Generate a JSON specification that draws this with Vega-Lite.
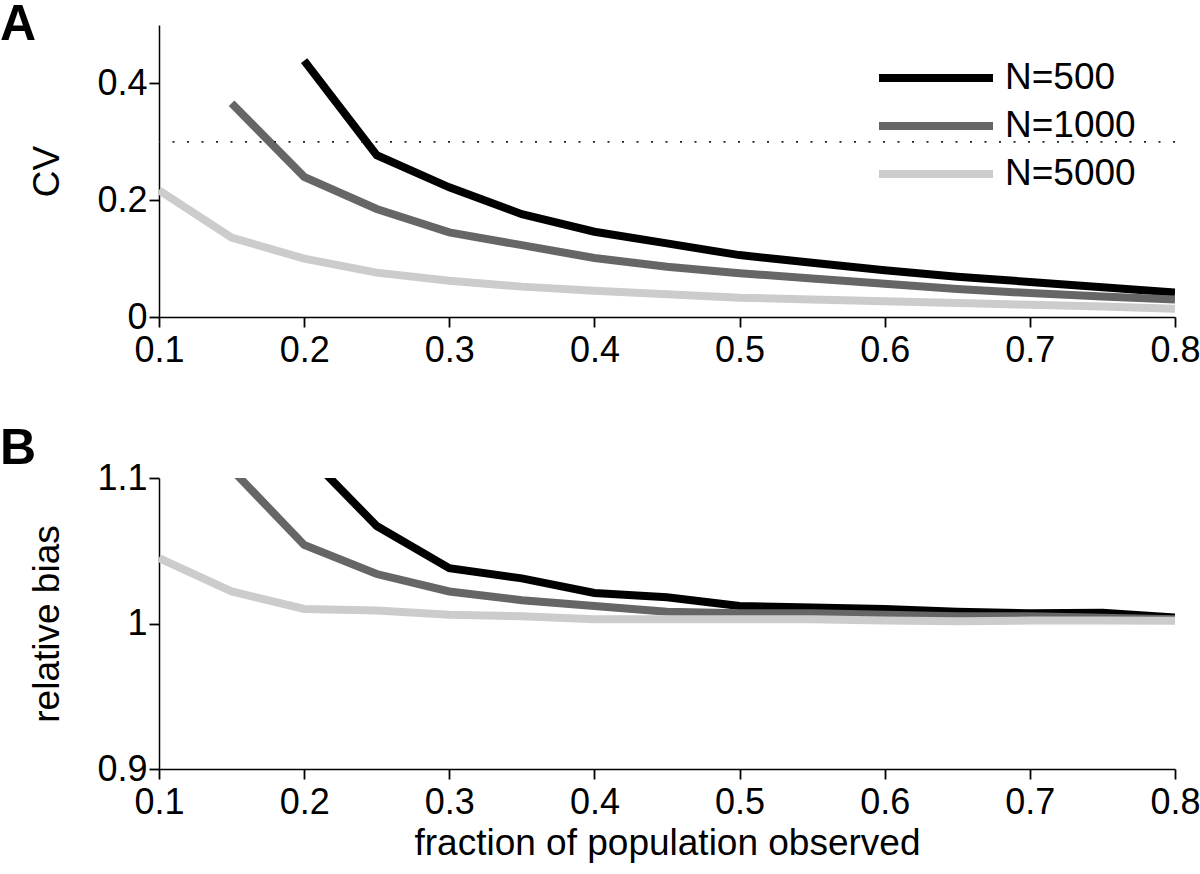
{
  "$schema": "https://vega.github.io/schema/vega-lite/v6.json",
  "background": "white",
  "padding": {"left": 0, "top": 0, "right": 20, "bottom": 5},
  "bounds": "flush",
  "spacing": 161,
  "config": {
    "font": "Liberation Sans",
    "view": {"stroke": null},
    "axis": {
      "grid": false,
      "ticks": true,
      "tickSize": 10,
      "tickColor": "#000000",
      "tickWidth": 1.8,
      "domainColor": "#000000",
      "domainWidth": 1.5,
      "labelFont": "Liberation Sans",
      "labelFontSize": 36,
      "labelColor": "#000000",
      "titleFont": "Liberation Sans",
      "titleFontSize": 37,
      "titleFontWeight": "normal",
      "titleColor": "#000000"
    },
    "axisX": {"labelPadding": 6, "labelFlush": false, "titlePadding": 5},
    "axisY": {"labelPadding": 2, "minExtent": 63, "maxExtent": 63, "titlePadding": 30}
  },
  "datasets": {
    "cv": [
      {"x": 0.2, "y": 0.439, "series": "N=500"},
      {"x": 0.25, "y": 0.277, "series": "N=500"},
      {"x": 0.3, "y": 0.222, "series": "N=500"},
      {"x": 0.35, "y": 0.176, "series": "N=500"},
      {"x": 0.4, "y": 0.146, "series": "N=500"},
      {"x": 0.45, "y": 0.126, "series": "N=500"},
      {"x": 0.5, "y": 0.106, "series": "N=500"},
      {"x": 0.55, "y": 0.093, "series": "N=500"},
      {"x": 0.6, "y": 0.080, "series": "N=500"},
      {"x": 0.65, "y": 0.069, "series": "N=500"},
      {"x": 0.7, "y": 0.060, "series": "N=500"},
      {"x": 0.75, "y": 0.051, "series": "N=500"},
      {"x": 0.8, "y": 0.042, "series": "N=500"},
      {"x": 0.15, "y": 0.366, "series": "N=1000"},
      {"x": 0.2, "y": 0.240, "series": "N=1000"},
      {"x": 0.25, "y": 0.185, "series": "N=1000"},
      {"x": 0.3, "y": 0.145, "series": "N=1000"},
      {"x": 0.35, "y": 0.123, "series": "N=1000"},
      {"x": 0.4, "y": 0.101, "series": "N=1000"},
      {"x": 0.45, "y": 0.086, "series": "N=1000"},
      {"x": 0.5, "y": 0.075, "series": "N=1000"},
      {"x": 0.55, "y": 0.066, "series": "N=1000"},
      {"x": 0.6, "y": 0.057, "series": "N=1000"},
      {"x": 0.65, "y": 0.048, "series": "N=1000"},
      {"x": 0.7, "y": 0.041, "series": "N=1000"},
      {"x": 0.75, "y": 0.035, "series": "N=1000"},
      {"x": 0.8, "y": 0.030, "series": "N=1000"},
      {"x": 0.1, "y": 0.217, "series": "N=5000"},
      {"x": 0.15, "y": 0.136, "series": "N=5000"},
      {"x": 0.2, "y": 0.100, "series": "N=5000"},
      {"x": 0.25, "y": 0.076, "series": "N=5000"},
      {"x": 0.3, "y": 0.062, "series": "N=5000"},
      {"x": 0.35, "y": 0.052, "series": "N=5000"},
      {"x": 0.4, "y": 0.045, "series": "N=5000"},
      {"x": 0.45, "y": 0.039, "series": "N=5000"},
      {"x": 0.5, "y": 0.033, "series": "N=5000"},
      {"x": 0.55, "y": 0.030, "series": "N=5000"},
      {"x": 0.6, "y": 0.027, "series": "N=5000"},
      {"x": 0.65, "y": 0.024, "series": "N=5000"},
      {"x": 0.7, "y": 0.021, "series": "N=5000"},
      {"x": 0.75, "y": 0.018, "series": "N=5000"},
      {"x": 0.8, "y": 0.014, "series": "N=5000"}
    ],
    "bias": [
      {"x": 0.2, "y": 1.118, "series": "N=500"},
      {"x": 0.25, "y": 1.067, "series": "N=500"},
      {"x": 0.3, "y": 1.038, "series": "N=500"},
      {"x": 0.35, "y": 1.031, "series": "N=500"},
      {"x": 0.4, "y": 1.021, "series": "N=500"},
      {"x": 0.45, "y": 1.018, "series": "N=500"},
      {"x": 0.5, "y": 1.012, "series": "N=500"},
      {"x": 0.55, "y": 1.011, "series": "N=500"},
      {"x": 0.6, "y": 1.010, "series": "N=500"},
      {"x": 0.65, "y": 1.008, "series": "N=500"},
      {"x": 0.7, "y": 1.007, "series": "N=500"},
      {"x": 0.75, "y": 1.0074, "series": "N=500"},
      {"x": 0.8, "y": 1.0041, "series": "N=500"},
      {"x": 0.15, "y": 1.106, "series": "N=1000"},
      {"x": 0.2, "y": 1.054, "series": "N=1000"},
      {"x": 0.25, "y": 1.034, "series": "N=1000"},
      {"x": 0.3, "y": 1.022, "series": "N=1000"},
      {"x": 0.35, "y": 1.016, "series": "N=1000"},
      {"x": 0.4, "y": 1.012, "series": "N=1000"},
      {"x": 0.45, "y": 1.008, "series": "N=1000"},
      {"x": 0.5, "y": 1.007, "series": "N=1000"},
      {"x": 0.55, "y": 1.007, "series": "N=1000"},
      {"x": 0.6, "y": 1.006, "series": "N=1000"},
      {"x": 0.65, "y": 1.005, "series": "N=1000"},
      {"x": 0.7, "y": 1.005, "series": "N=1000"},
      {"x": 0.75, "y": 1.004, "series": "N=1000"},
      {"x": 0.8, "y": 1.003, "series": "N=1000"},
      {"x": 0.1, "y": 1.045, "series": "N=5000"},
      {"x": 0.15, "y": 1.022, "series": "N=5000"},
      {"x": 0.2, "y": 1.010, "series": "N=5000"},
      {"x": 0.25, "y": 1.009, "series": "N=5000"},
      {"x": 0.3, "y": 1.006, "series": "N=5000"},
      {"x": 0.35, "y": 1.005, "series": "N=5000"},
      {"x": 0.4, "y": 1.003, "series": "N=5000"},
      {"x": 0.45, "y": 1.003, "series": "N=5000"},
      {"x": 0.5, "y": 1.003, "series": "N=5000"},
      {"x": 0.55, "y": 1.003, "series": "N=5000"},
      {"x": 0.6, "y": 1.002, "series": "N=5000"},
      {"x": 0.65, "y": 1.0015, "series": "N=5000"},
      {"x": 0.7, "y": 1.002, "series": "N=5000"},
      {"x": 0.75, "y": 1.002, "series": "N=5000"},
      {"x": 0.8, "y": 1.0019, "series": "N=5000"}
    ]
  },
  "vconcat": [
    {
      "width": 1016,
      "height": 292,
      "title": {"text": "A", "anchor": "start", "frame": "bounds", "fontSize": 50, "fontWeight": "bold", "font": "Liberation Sans", "color": "#000000", "baseline": "alphabetic", "offset": -17, "dx": -28, "dy": 48},
      "layer": [
        {
          "data": {"name": "cv"},
          "mark": {"type": "line", "strokeWidth": 8, "clip": true},
          "encoding": {
            "x": {"field": "x", "type": "quantitative", "scale": {"domain": [0.1, 0.8], "nice": false}, "axis": {"title": null, "values": [0.1, 0.2, 0.3, 0.4, 0.5, 0.6, 0.7, 0.8], "format": ".1f", "encode": {"ticks": {"y2": {"value": -10}}}}},
            "y": {"field": "y", "type": "quantitative", "scale": {"domain": [0, 0.5], "nice": false, "zero": false}, "axis": {"title": "CV", "values": [0, 0.2, 0.4], "format": "~g", "encode": {"ticks": {"x2": {"value": 10}}}}},
            "color": {"field": "series", "type": "nominal", "sort": ["N=500", "N=1000", "N=5000"], "scale": {"domain": ["N=500", "N=1000", "N=5000"], "range": ["#000000", "#666666", "#cccccc"]},
              "legend": {"title": null, "orient": "none", "legendX": 753, "legendY": 29, "padding": 0, "symbolType": "M-2.85,0H2.85", "symbolSize": 1600, "symbolStrokeWidth": 8, "labelFontSize": 37, "labelFont": "Liberation Sans", "labelColor": "#000000", "labelOffset": 45, "rowPadding": 6}}
          }
        },
        {
          "data": {"values": [{"threshold": 0.3}]},
          "mark": {"type": "rule", "strokeDash": [2, 12.5], "strokeWidth": 1.8, "color": "#222222"},
          "encoding": {"y": {"field": "threshold", "type": "quantitative"}}
        }
      ]
    },
    {
      "width": 1016,
      "height": 291,
      "title": {"text": "B", "anchor": "start", "frame": "bounds", "fontSize": 50, "fontWeight": "bold", "font": "Liberation Sans", "color": "#000000", "baseline": "alphabetic", "offset": 13, "dx": -28, "dy": 67},
      "data": {"name": "bias"},
      "mark": {"type": "line", "strokeWidth": 8, "clip": true},
      "encoding": {
        "x": {"field": "x", "type": "quantitative", "scale": {"domain": [0.1, 0.8], "nice": false}, "axis": {"title": "fraction of population observed", "values": [0.1, 0.2, 0.3, 0.4, 0.5, 0.6, 0.7, 0.8], "format": ".1f", "encode": {"ticks": {"y2": {"value": -10}}}}},
        "y": {"field": "y", "type": "quantitative", "scale": {"domain": [0.9, 1.1], "nice": false, "zero": false}, "axis": {"title": "relative bias", "values": [0.9, 1, 1.1], "format": "~g", "encode": {"ticks": {"x2": {"value": 10}}}}},
        "color": {"field": "series", "type": "nominal", "sort": ["N=500", "N=1000", "N=5000"], "scale": {"domain": ["N=500", "N=1000", "N=5000"], "range": ["#000000", "#666666", "#cccccc"]}, "legend": null}
      }
    }
  ]
}
